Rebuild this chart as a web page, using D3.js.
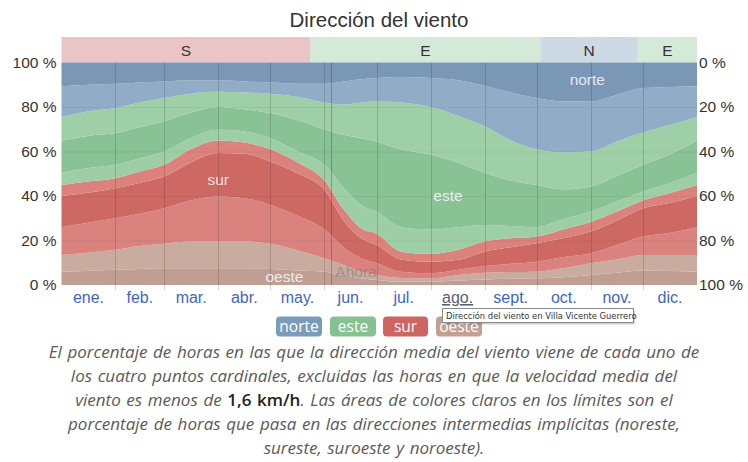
<!DOCTYPE html>
<html>
<head>
<meta charset="utf-8">
<script src="https://cdn.jsdelivr.net/npm/d3@7/dist/d3.min.js"></script>
<style>
  html, body { margin: 0; padding: 0; background: #fff; }
  svg { display: block; }
</style>
</head>
<body>
<svg id="chart" width="748" height="462"></svg>
<script>
// ---------------- DATA ----------------
const days = [0, 15, 31, 45, 59, 74, 90, 105, 120, 136, 151, 162, 172, 181, 195, 212, 228, 243, 258, 273, 288, 304, 319, 334, 350, 365];

// percentage of hours (bands stacked from bottom to top)
const oeste      = [6.0, 6.3, 6.8, 7.2, 7.5, 7.5, 7.5, 7.5, 7.2, 6.5, 6.0, 4.5, 3.0, 2.3, 1.5, 1.5, 2.0, 2.5, 2.8, 3.0, 3.5, 4.5, 5.5, 6.5, 6.3, 6.0];
const oesteSO    = [7.5, 8.2, 9.0, 10.3, 11.0, 12.0, 12.0, 12.0, 11.3, 9.0, 6.0, 4.5, 3.0, 2.2, 1.7, 1.5, 2.5, 3.0, 3.0, 3.0, 4.0, 5.3, 6.0, 7.0, 7.2, 7.5];
const surSO      = [12.5, 13.5, 14.2, 14.5, 16.0, 18.5, 20.3, 19.5, 17.5, 15.5, 13.0, 8.0, 6.0, 5.3, 2.8, 2.3, 2.3, 3.0, 3.7, 4.5, 5.0, 4.5, 6.5, 8.3, 10.0, 12.5];
const sur        = [14.0, 13.5, 13.5, 14.0, 14.3, 17.0, 19.5, 20.0, 19.5, 19.0, 17.8, 12.0, 9.0, 8.2, 5.5, 5.2, 4.5, 6.5, 7.5, 8.3, 8.5, 9.7, 11.0, 12.7, 13.5, 14.0];
const surSE      = [5.0, 5.0, 4.5, 5.0, 5.2, 6.0, 5.7, 5.0, 5.5, 5.0, 4.2, 5.0, 4.5, 5.0, 3.5, 3.5, 4.5, 4.5, 4.0, 3.0, 4.0, 4.3, 4.0, 3.5, 4.5, 5.0];
const esteSE     = [5.5, 6.0, 6.0, 6.0, 6.0, 5.0, 4.8, 5.0, 5.0, 5.0, 7.0, 9.7, 10.5, 10.0, 11.0, 11.0, 10.2, 7.5, 5.5, 4.2, 4.5, 4.7, 4.5, 4.0, 4.5, 5.5];
const este       = [14.3, 14.5, 14.3, 14.0, 13.6, 11.5, 10.2, 10.0, 11.3, 14.0, 16.0, 23.8, 30.0, 31.5, 35.0, 33.6, 29.0, 23.5, 20.5, 19.0, 13.5, 11.3, 11.5, 12.0, 13.0, 14.3];
const esteNE     = [10.7, 11.0, 11.3, 11.0, 10.4, 8.5, 6.8, 7.5, 8.7, 10.5, 12.0, 13.5, 16.0, 18.0, 21.0, 21.4, 21.0, 20.8, 18.0, 16.0, 16.5, 15.7, 15.5, 14.5, 13.0, 10.7];
const norteNE    = [13.8, 12.0, 10.8, 9.0, 7.5, 6.0, 5.2, 5.0, 5.0, 6.0, 8.5, 10.5, 10.5, 10.5, 11.5, 13.0, 16.0, 18.2, 21.5, 23.0, 23.0, 22.5, 21.0, 20.0, 17.0, 13.8];
const norte      = [10.7, 10.0, 9.6, 9.0, 8.5, 8.0, 8.0, 8.5, 9.0, 9.5, 9.5, 8.5, 7.5, 7.0, 6.5, 7.0, 8.0, 10.5, 13.5, 16.0, 17.5, 17.5, 14.5, 11.5, 11.0, 10.7];

const monthLabels = ["ene.", "feb.", "mar.", "abr.", "may.", "jun.", "jul.", "ago.", "sept.", "oct.", "nov.", "dic."];
const monthStarts = [0, 31, 59, 90, 120, 151, 181, 212, 243, 273, 304, 334, 365];

const leftTicks = [0, 20, 40, 60, 80, 100];

// dominant direction strip
const bandLabels = ["S", "E", "N", "E"];
const bandStarts = [0, 143, 275, 331];
const bandEnds   = [143, 275, 331, 365];

const nowDay = 155;

const legendLabels = ["norte", "este", "sur", "oeste"];

// ---------------- STYLE ----------------
const keys = ["oeste", "oesteSO", "surSO", "sur", "surSE", "esteSE", "este", "esteNE", "norteNE", "norte"];
const colors = {
  oeste: "#c09e94", oesteSO: "#caaba0",
  surSO: "#da837e", sur: "#ce6862", surSE: "#dc827d",
  esteSE: "#9ecea5", este: "#89c294", esteNE: "#9fcfa7",
  norteNE: "#91acc6", norte: "#7a97b5"
};
const bandColors = { S: "#ebc5c5", E: "#d5e9d8", N: "#cdd9e4" };
const legendColors = ["#7a9bb9", "#85c291", "#cf6560", "#c2a092"];

const series = { oeste, oesteSO, surSO, sur, surSE, esteSE, este, esteNE, norteNE, norte };
const rows = days.map((d, i) => {
  const r = { day: d };
  keys.forEach(k => r[k] = series[k][i]);
  return r;
});

const svg = d3.select("#chart");
svg.append("rect").attr("width", 748).attr("height", 462).attr("fill", "#fff");

const x = d3.scaleLinear().domain([0, 365]).range([61.5, 697]);
const y = d3.scaleLinear().domain([0, 100]).range([285, 62.5]);
const yR = d3.scaleLinear().domain([100, 0]).range([285, 62.5]);

const sans = "'Liberation Sans', Arial, Helvetica, sans-serif";

// title
svg.append("text")
  .attr("x", 379).attr("y", 27)
  .attr("text-anchor", "middle")
  .attr("font-family", sans).attr("font-size", 20.5)
  .attr("fill", "#333")
  .text("Dirección del viento");

// top band
const bandG = svg.append("g");
bandLabels.forEach((lab, i) => {
  bandG.append("rect")
    .attr("x", x(bandStarts[i])).attr("y", 37)
    .attr("width", x(bandEnds[i]) - x(bandStarts[i])).attr("height", 25.5)
    .attr("fill", bandColors[lab]);
  bandG.append("text")
    .attr("x", (x(bandStarts[i]) + x(bandEnds[i])) / 2).attr("y", 55.5)
    .attr("text-anchor", "middle")
    .attr("font-family", sans).attr("font-size", 15.5)
    .attr("fill", "#333")
    .text(lab);
});

// stacked areas
const stacked = d3.stack().keys(keys)(rows);
const area = d3.area()
  .x(d => x(d.data.day))
  .y0(d => y(d[0]))
  .y1(d => y(d[1]))
  .curve(d3.curveMonotoneX);

svg.append("g").selectAll("path")
  .data(stacked)
  .join("path")
  .attr("d", area)
  .attr("fill", d => colors[d.key]);

// horizontal faint grid
svg.append("g").selectAll("line")
  .data(leftTicks.slice(1, -1))
  .join("line")
  .attr("x1", x(0)).attr("x2", x(365))
  .attr("y1", d => y(d) + 0.5).attr("y2", d => y(d) + 0.5)
  .attr("stroke", "rgba(0,0,0,0.05)");

// vertical month grid
svg.append("g").selectAll("line")
  .data(monthStarts.slice(1, -1))
  .join("line")
  .attr("x1", d => Math.round(x(d)) + 0.5).attr("x2", d => Math.round(x(d)) + 0.5)
  .attr("y1", y(100)).attr("y2", 290)
  .attr("stroke", "rgba(40,40,40,0.2)");

// now line
svg.append("line")
  .attr("x1", Math.round(x(nowDay)) + 0.5).attr("x2", Math.round(x(nowDay)) + 0.5)
  .attr("y1", y(100)).attr("y2", y(0))
  .attr("stroke", "rgba(40,40,40,0.3)");
svg.append("text")
  .attr("x", x(nowDay) + 4).attr("y", 277)
  .attr("font-family", sans).attr("font-size", 15.5)
  .attr("fill", "rgba(120,120,120,0.55)")
  .text("Ahora");

// inner labels
const inner = [
  { t: "norte", d: 302, v: 92 },
  { t: "este", d: 222, v: 40 },
  { t: "sur", d: 90, v: 47 },
  { t: "oeste", d: 128, v: 3.5 }
];
svg.append("g").selectAll("text")
  .data(inner)
  .join("text")
  .attr("x", d => x(d.d)).attr("y", d => y(d.v) + 5)
  .attr("text-anchor", "middle")
  .attr("font-family", sans).attr("font-size", 15.5)
  .attr("fill", "rgba(255,255,255,0.8)")
  .text(d => d.t);

// left axis
const leftAxis = svg.append("g")
  .attr("transform", `translate(${x(0) - 5},0)`)
  .call(d3.axisLeft(y).tickValues(leftTicks).tickFormat(d => d + " %").tickSize(0).tickPadding(0));
leftAxis.select(".domain").remove();
leftAxis.selectAll("text")
  .attr("font-family", sans).attr("font-size", 15.5).attr("fill", "#333");

// right axis
const rightAxis = svg.append("g")
  .attr("transform", `translate(${x(365) + 2},0)`)
  .call(d3.axisRight(yR).tickValues(leftTicks).tickFormat(d => d + " %").tickSize(0).tickPadding(0));
rightAxis.select(".domain").remove();
rightAxis.selectAll("text")
  .attr("font-family", sans).attr("font-size", 15.5).attr("fill", "#333");

// month labels
const monthMid = monthLabels.map((m, i) => ({ m, d: (monthStarts[i] + monthStarts[i + 1]) / 2 }));
svg.append("g").selectAll("text")
  .data(monthMid)
  .join("text")
  .attr("x", d => x(d.d)).attr("y", 303)
  .attr("text-anchor", "middle")
  .attr("font-family", sans).attr("font-size", 16)
  .attr("fill", d => d.m === "ago." ? "#566075" : "#3d67c3")
  .attr("text-decoration", d => d.m === "ago." ? "underline" : null)
  .text(d => d.m);

// legend
const legX = [276, 330, 383, 436];
const legW = [46, 46, 45, 46];
const legG = svg.append("g");
legendLabels.forEach((lab, i) => {
  legG.append("rect")
    .attr("x", legX[i]).attr("y", 316.5)
    .attr("width", legW[i]).attr("height", 20)
    .attr("rx", 4)
    .attr("fill", legendColors[i]);
  legG.append("text")
    .attr("x", legX[i] + legW[i] / 2).attr("y", 332)
    .attr("text-anchor", "middle")
    .attr("font-family", "'Open Sans', sans-serif").attr("font-size", 15.5)
    .attr("fill", "#fff")
    .text(lab);
});

// tooltip
const tip = svg.append("g");
tip.append("rect").attr("x", 444).attr("y", 310.5).attr("width", 191).attr("height", 14)
  .attr("fill", "rgba(0,0,0,0.18)");
tip.append("rect").attr("x", 442.5).attr("y", 308.5).attr("width", 191).attr("height", 14)
  .attr("fill", "#fff").attr("stroke", "#8a8a8a").attr("stroke-width", 1);
tip.append("text").attr("x", 446).attr("y", 319)
  .attr("font-family", "'DejaVu Sans', sans-serif").attr("font-size", 8.4)
  .attr("fill", "#333")
  .text("Dirección del viento en Villa Vicente Guerrero");

// caption
const capLines = [
  [{ t: "El porcentaje de horas en las que la dirección media del viento viene de cada uno de" }],
  [{ t: "los cuatro puntos cardinales, excluidas las horas en que la velocidad media del" }],
  [{ t: "viento es menos de " }, { t: "1,6 km/h", b: true }, { t: ". Las áreas de colores claros en los límites son el" }],
  [{ t: "porcentaje de horas que pasa en las direcciones intermedias implícitas (noreste," }],
  [{ t: "sureste, suroeste y noroeste)." }]
];
const capBase = [358, 382, 406, 430, 454];
capLines.forEach((parts, i) => {
  const t = svg.append("text")
    .attr("x", 374).attr("y", capBase[i])
    .attr("text-anchor", "middle")
    .attr("font-family", "'Open Sans', sans-serif").attr("font-size", 17)
    .attr("word-spacing", 1.2)
    .attr("font-style", "italic")
    .attr("fill", "#5a5a5a");
  parts.forEach(p => {
    const s = t.append("tspan").text(p.t);
    if (p.b) s.attr("font-style", "normal").attr("font-weight", 600).attr("fill", "#222");
  });
});
</script>
</body>
</html>
